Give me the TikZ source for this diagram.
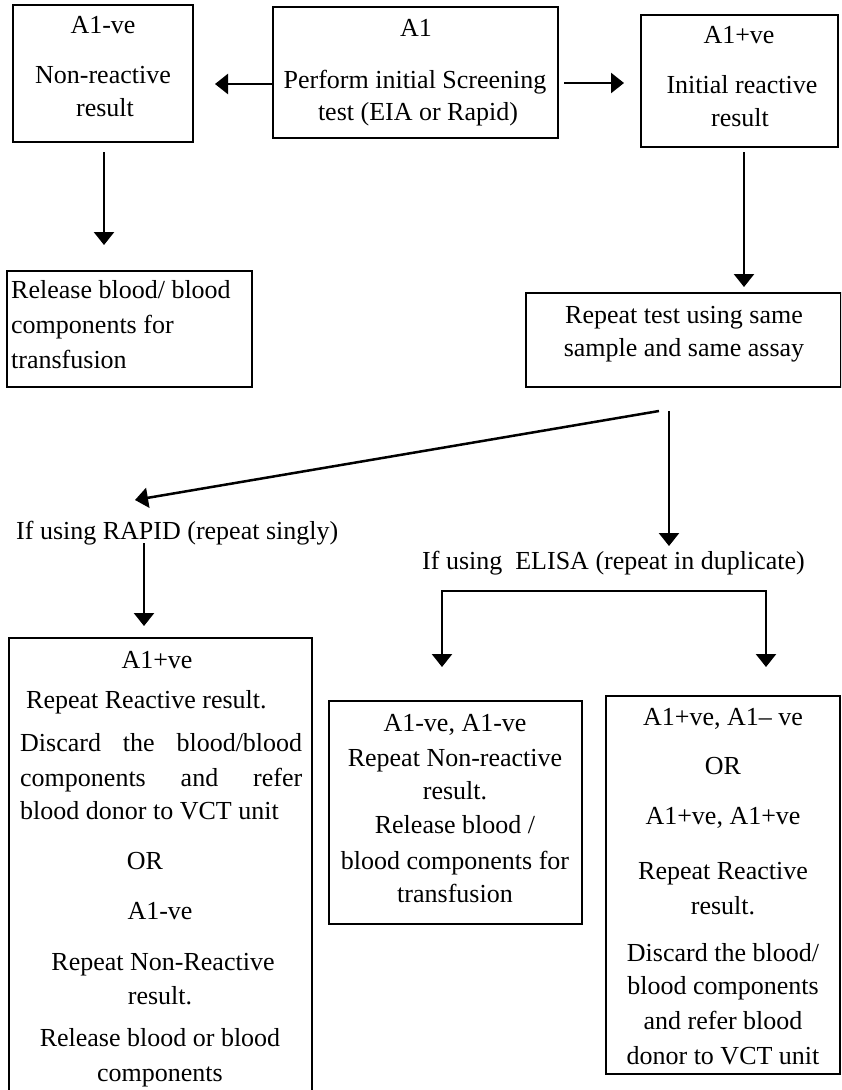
\documentclass[tikz,border=0pt]{standalone}
\usepackage{fontspec}
\setmainfont{Liberation Serif}
\usetikzlibrary{arrows.meta}
\newcommand{\fsz}{\fontsize{26}{34}\selectfont}
\begin{document}
\begin{tikzpicture}[x=1pt,y=-1pt,
  box/.style={draw,line width=2.5pt,rectangle,inner sep=0pt},
  txt/.style={inner sep=0pt,text height=17pt,text depth=0pt,font=\fsz},
  arr/.style={line width=2.5pt,-{Triangle[width=20pt,length=13pt]}},
  darr/.style={line width=2.5pt,{Triangle[width=20pt,length=13pt]}-{Triangle[width=20pt,length=13pt]}}]
\fill[white] (0,0) rectangle (841,1090);
\useasboundingbox (0,0) rectangle (841,1090);
\begin{scope}
\clip (0,0) rectangle (841,1090);
% boxes
\node[box,minimum width=180pt,minimum height=137pt] (neg) at (103,73.5) {};
\node[box,minimum width=285pt,minimum height=131pt] (mid) at (415.5,72.5) {};
\node[box,minimum width=197pt,minimum height=132pt] (pos) at (739.5,81) {};
\node[box,minimum width=245pt,minimum height=116pt] (rel) at (129.5,329) {};
\node[box,minimum width=315pt,minimum height=94pt] (rep) at (683.5,340) {};
\node[box,minimum width=303pt,minimum height=480pt] (rapid) at (160.5,878) {};
\node[box,minimum width=253pt,minimum height=223pt] (nonr) at (455.5,812.5) {};
\node[box,minimum width=234pt,minimum height=378pt] (reac) at (723,885) {};
\end{scope}
% top left
\node[txt] (n1) at (103,25) {A1-ve};
\node[txt] (n2) at (103,75) {Non-reactive};
\node[txt] (n3) at (105,108) {result};
% top middle
\node[txt] (m1) at (416,28) {A1};
\node[txt] (m2) at (415,80) {Perform initial Screening};
\node[txt] (m3) at (418,112) {test (EIA or Rapid)};
% top right
\node[txt] (p1) at (739,35) {A1+ve};
\node[txt] (p2) at (742,85) {Initial reactive};
\node[txt] (p3) at (740,118) {result};
% release
\node[txt,anchor=west] (r1) at (11,290) {Release blood/ blood};
\node[txt,anchor=west] (r2) at (11,325) {components for};
\node[txt,anchor=west] (r3) at (11,360) {transfusion};
% repeat
\node[txt] (q1) at (684,315) {Repeat test using same};
\node[txt] (q2) at (684,348) {sample and same assay};
% labels
\node[txt,anchor=west] (lr) at (16,531) {If using RAPID (repeat singly)};
\node[txt,anchor=west] (le) at (422,561) {If using\ \ ELISA (repeat in duplicate)};
% bottom left
\node[txt] (b1) at (157,660) {A1+ve};
\node[txt,anchor=west] (b2) at (26,700) {Repeat Reactive result.};
\node[txt,anchor=west] (b3) at (20,743) {\makebox[282pt][s]{Discard the blood/blood}};
\node[txt,anchor=west] (b4) at (20,778) {\makebox[282pt][s]{components and refer}};
\node[txt,anchor=west] (b5) at (20,811) {blood donor to VCT unit};
\node[txt] (b6) at (145,861) {OR};
\node[txt] (b7) at (160,911) {A1-ve};
\node[txt] (b8) at (163,962) {Repeat Non-Reactive};
\node[txt] (b9) at (160,996) {result.};
\node[txt] (b10) at (160,1038) {Release blood or blood};
\node[txt] (b11) at (160,1073) {components};
% bottom middle
\node[txt] (c1) at (455,723) {A1-ve, A1-ve};
\node[txt] (c2) at (455,758) {Repeat Non-reactive};
\node[txt] (c3) at (455,791) {result.};
\node[txt] (c4) at (455,825) {Release blood /};
\node[txt] (c5) at (455,861) {blood components for};
\node[txt] (c6) at (455,894) {transfusion};
% bottom right
\node[txt] (d1) at (723,717) {A1+ve, A1-- ve};
\node[txt] (d2) at (723,766) {OR};
\node[txt] (d3) at (723,816) {A1+ve, A1+ve};
\node[txt] (d4) at (723,871) {Repeat Reactive};
\node[txt] (d5) at (723,906) {result.};
\node[txt] (d6) at (723,953) {Discard the blood/};
\node[txt] (d7) at (723,986) {blood components};
\node[txt] (d8) at (723,1021) {and refer blood};
\node[txt] (d9) at (723,1056) {donor to VCT unit};
% connector coordinates
\coordinate (aLs) at (273,84);
\coordinate (aLe) at (215,84);
\coordinate (aRs) at (564,83);
\coordinate (aRe) at (624,83);
\coordinate (dLs) at (104,152);
\coordinate (dLe) at (104,245);
\coordinate (dRs) at (744,152);
\coordinate (dRe) at (744,287);
\coordinate (sp) at (659,411);
\coordinate (spE) at (135,500);
\coordinate (vs) at (669,411);
\coordinate (vE) at (669,546);
\coordinate (rs) at (144,543);
\coordinate (rE) at (144,626);
\coordinate (bl) at (442,667);
\coordinate (bt) at (600,591);
\coordinate (br) at (766,667);
% connectors
\draw[arr] (aLs) -- (aLe);
\draw[arr] (aRs) -- (aRe);
\draw[arr] (dLs) -- (dLe);
\draw[arr] (dRs) -- (dRe);
\draw[arr] (sp) -- (spE);
\draw[arr] (vs) -- (vE);
\draw[arr] (rs) -- (rE);
\draw[darr] (bl) |- (bt) -| (br);
\end{tikzpicture}
\end{document}
